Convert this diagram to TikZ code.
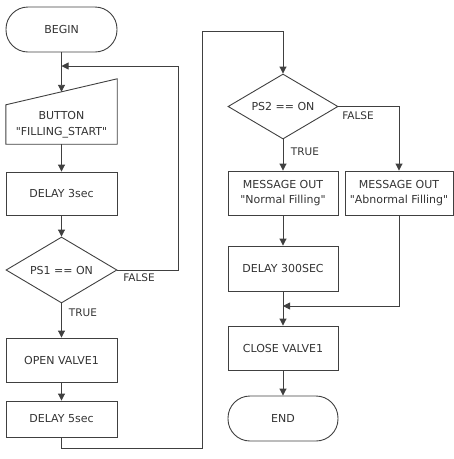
\documentclass[tikz,border=0pt]{standalone}
\usepackage{fontspec}
\newfontfamily\dv{DejaVu Sans}
\usetikzlibrary{shapes.geometric,arrows.meta}
\definecolor{ln}{HTML}{404040}
\definecolor{tx}{HTML}{333333}
\begin{document}
\begin{tikzpicture}[x=1pt,y=-1pt,
 every node/.style={font=\dv\fontsize{11}{15.5}\selectfont, text=tx},
 box/.style={draw=ln, line width=0.9pt, minimum width=111pt, minimum height=44pt, inner sep=0pt, align=center},
 term/.style={box, rounded corners=22pt},
 dec/.style={diamond, draw=ln, line width=0.9pt, minimum width=111pt, minimum height=66pt, aspect=1.68, inner sep=0pt},
 lbl/.style={font=\dv\fontsize{10.5}{12}\selectfont},
 conn/.style={draw=ln, line width=0.9pt},
 arr/.style={conn, -{Triangle[length=7pt,width=7pt]}}]
\useasboundingbox (0,0) rectangle (454,459);
% left column
\node[term, minimum height=45pt] (begin) at (61.5,29.5) {BEGIN};
\node[minimum width=111pt, minimum height=65pt, inner sep=0pt] (button) at (61.5,111.5) {};
\draw[conn] (button.south west) -- ([yshift=-26pt]button.north west) -- (button.north east) -- (button.south east) -- cycle;
\node[align=center] (buttontext) at (61.5,124.5) {BUTTON\\"FILLING\_START"};
\node[box, minimum height=43pt] (delay3) at (61.5,193.5) {DELAY 3sec};
\node[dec] (ps1) at (61.5,270) {PS1 == ON};
\node[box] (open) at (61.5,360) {OPEN VALVE1};
\node[box, minimum height=36pt] (delay5) at (61.5,419) {DELAY 5sec};
% right column
\node[dec, minimum width=110pt, minimum height=65pt] (ps2) at (283,106.5) {PS2 == ON};
\node[box, minimum width=110pt] (normal) at (283,193) {MESSAGE OUT\\"Normal Filling"};
\node[box, minimum width=108pt] (abnormal) at (399,193) {MESSAGE OUT\\"Abnormal Filling"};
\node[box, minimum width=110pt, minimum height=45pt] (delay300) at (283,268.5) {DELAY 300SEC};
\node[box, minimum width=110pt] (close) at (283,348) {CLOSE VALVE1};
\node[term, minimum width=110pt, minimum height=45pt] (end) at (283,418.5) {END};
% labels
\node[lbl] (f1) at (139,278) {FALSE};
\node[lbl] (t1) at (83,312.5) {TRUE};
\node[lbl] (f2) at (358,115.5) {FALSE};
\node[lbl] (t2) at (305,151.5) {TRUE};
% coordinates
\coordinate (fb) at (61.5,66);
\coordinate (merge) at (283,306);
% connectors
\draw[arr] (begin.south) -- ([yshift=-13pt]button.north);
\draw[arr] (button.south) -- (delay3.north);
\draw[arr] (delay3.south) -- (ps1.north);
\draw[arr] (ps1.east) -- ++(61,0) |- (fb);
\draw[arr] (ps1.south) -- (open.north);
\draw[arr] (open.south) -- (delay5.north);
\draw[arr] (delay5.south) -- ++(0,11) -| (202,31) -| (ps2.north);
\draw[arr] (ps2.south) -- (normal.north);
\draw[arr] (ps2.east) -| (abnormal.north);
\draw[arr] (normal.south) -- (delay300.north);
\draw[arr] (delay300.south) -- (close.north);
\draw[arr] (abnormal.south) |- (merge);
\draw[arr] (close.south) -- (end.north);
\end{tikzpicture}
\end{document}
